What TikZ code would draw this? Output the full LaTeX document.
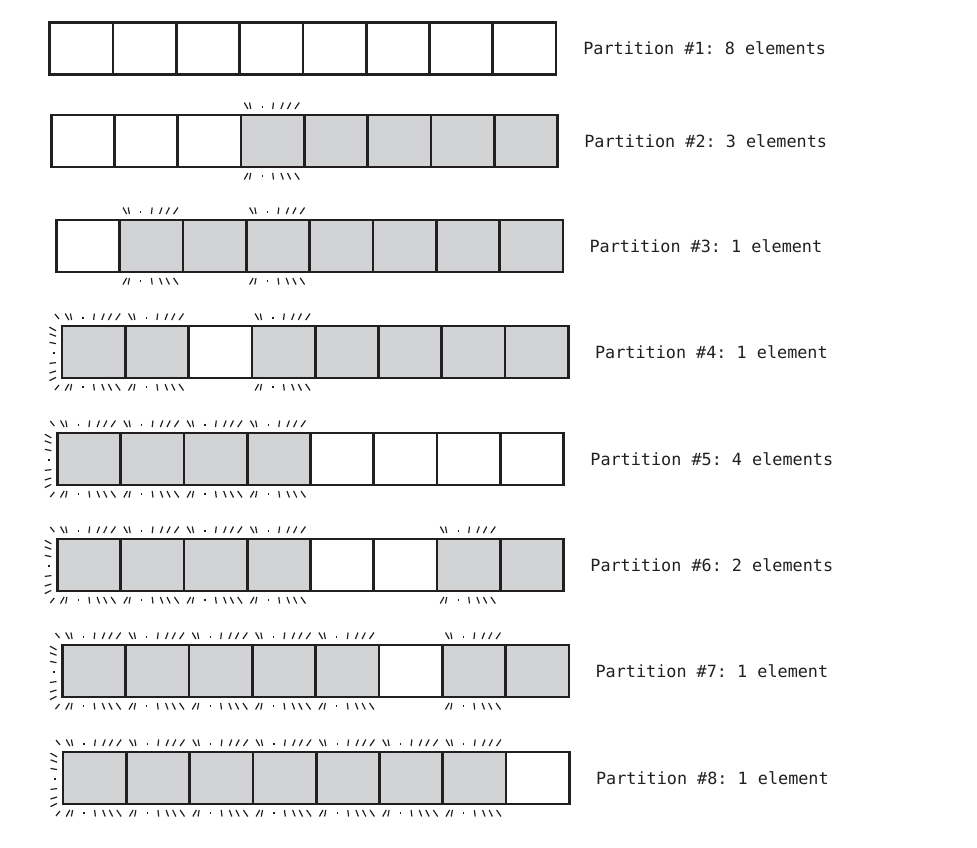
\documentclass[tikz,border=0pt]{standalone}
\usepackage{fontspec}
\newfontfamily\monof{DejaVu Sans Mono}
\usetikzlibrary{calc}
\definecolor{boxgray}{HTML}{D1D3D4}
\definecolor{ink}{HTML}{231F20}
\frenchspacing
\tikzset{
  cell/.style={draw=ink, line width=2.7pt, minimum width=63.3pt, minimum height=52pt,
    inner sep=0pt, outer sep=0pt, anchor=center},
  lbl/.style={anchor=west, inner sep=0pt, font=\monof\fontsize{16.8pt}{20pt}\selectfont\frenchspacing, text=ink},
  glowtick/.style={draw=ink, line width=1.2pt}
}
\newcommand{\cellrow}[4]{%
  \foreach \f [count=\i] in {#4} {
    \node[cell, fill=\f] (r#1b\i) at ({#2+(\i-0.5)*63.3},#3) {};
  }%
}
\newcommand{\glowtb}[1]{%
  \foreach \dx/\ln in {5/-1.8, 9/-0.6, 32/0.4, 41/1.2, 48/1.6, 56/2.2}{
    \draw[glowtick] ($(#1.north west)+(\dx+\ln,-12.5)$) -- ($(#1.north west)+(\dx-\ln,-6)$);
    \draw[glowtick] ($(#1.south west)+(\dx+\ln,12.5)$) -- ($(#1.south west)+(\dx-\ln,6)$);
  }
  \draw[glowtick] ($(#1.north west)+(21,-9.5)$) -- ($(#1.north west)+(21,-7.5)$);
  \draw[glowtick] ($(#1.south west)+(21,9.5)$) -- ($(#1.south west)+(21,7.5)$);
}
\newcommand{\glowleft}[1]{%
  \foreach \dy/\ln in {3/-1.8, 9/-1.2, 17/-0.6, 37/0.4, 46/1.0, 53/1.6}{
    \draw[glowtick] ($(#1.north west)+(-12.5,\dy+\ln)$) -- ($(#1.north west)+(-6,\dy-\ln)$);
  }
  \draw[glowtick] ($(#1.north west)+(-9.5,27)$) -- ($(#1.north west)+(-7.5,27)$);
  \draw[glowtick] ($(#1.north west)+(-7,-12)$) -- ($(#1.north west)+(-3,-7)$);
  \draw[glowtick] ($(#1.south west)+(-7,12)$) -- ($(#1.south west)+(-3,7)$);
}
\begin{document}
\begin{tikzpicture}[x=1pt,y=-1pt]
\useasboundingbox (0,0) rectangle (977,847);
\fill[white] (0,0) rectangle (977,847);

% Row 1
\cellrow{1}{49.7}{48.3}{white,white,white,white,white,white,white,white}
\node[lbl] (l1) at ($(r1b8.east)+(27,0)$) {Partition \#1: 8 elements};

% Row 2
\cellrow{2}{51.2}{141}{white,white,white,boxgray,boxgray,boxgray,boxgray,boxgray}
\node[lbl] (l2) at ($(r2b8.east)+(26.5,0)$) {Partition \#2: 3 elements};
\glowtb{r2b4}

% Row 3
\cellrow{3}{56.5}{246}{white,boxgray,boxgray,boxgray,boxgray,boxgray,boxgray,boxgray}
\node[lbl] (l3) at ($(r3b8.east)+(26.5,0)$) {Partition \#3: 1 element};
\foreach \k in {2,4} {\glowtb{r3b\k}}

% Row 4
\cellrow{4}{62}{352}{boxgray,boxgray,white,boxgray,boxgray,boxgray,boxgray,boxgray}
\node[lbl] (l4) at ($(r4b8.east)+(26.5,0)$) {Partition \#4: 1 element};
\foreach \k in {1,2,4} {\glowtb{r4b\k}}
\glowleft{r4b1}

% Row 5
\cellrow{5}{57.3}{459}{boxgray,boxgray,boxgray,boxgray,white,white,white,white}
\node[lbl] (l5) at ($(r5b8.east)+(26.5,0)$) {Partition \#5: 4 elements};
\foreach \k in {1,2,3,4} {\glowtb{r5b\k}}
\glowleft{r5b1}

% Row 6
\cellrow{6}{57.3}{565}{boxgray,boxgray,boxgray,boxgray,white,white,boxgray,boxgray}
\node[lbl] (l6) at ($(r6b8.east)+(26.5,0)$) {Partition \#6: 2 elements};
\foreach \k in {1,2,3,4,7} {\glowtb{r6b\k}}
\glowleft{r6b1}

% Row 7
\cellrow{7}{62.5}{671}{boxgray,boxgray,boxgray,boxgray,boxgray,white,boxgray,boxgray}
\node[lbl] (l7) at ($(r7b8.east)+(26.5,0)$) {Partition \#7: 1 element};
\foreach \k in {1,2,3,4,5,7} {\glowtb{r7b\k}}
\glowleft{r7b1}

% Row 8
\cellrow{8}{63}{778}{boxgray,boxgray,boxgray,boxgray,boxgray,boxgray,boxgray,white}
\node[lbl] (l8) at ($(r8b8.east)+(26.5,0)$) {Partition \#8: 1 element};
\foreach \k in {1,2,3,4,5,6,7} {\glowtb{r8b\k}}
\glowleft{r8b1}
\end{tikzpicture}
\end{document}
